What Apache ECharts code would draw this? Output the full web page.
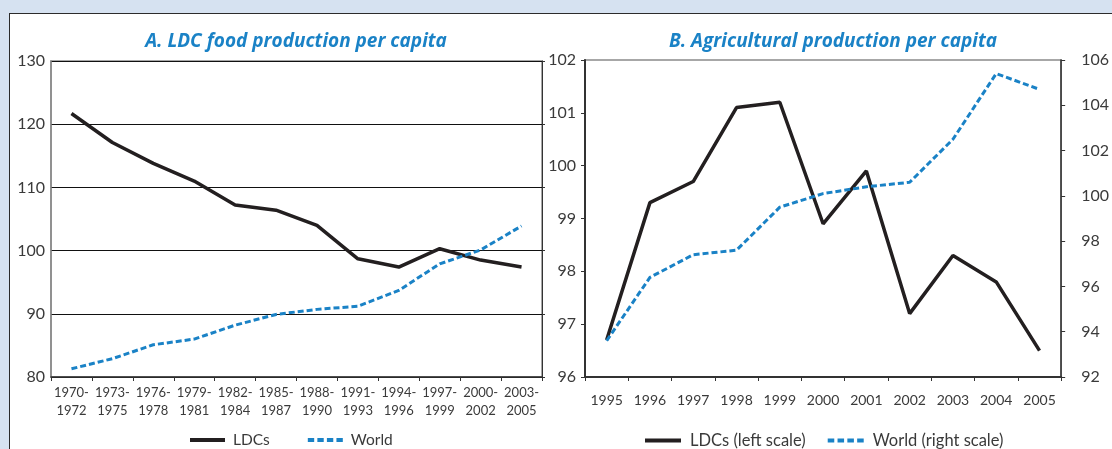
<!DOCTYPE html>
<html>
<head>
<meta charset="utf-8">
<script src="https://cdn.jsdelivr.net/npm/echarts@6/dist/echarts.min.js"></script>
<style>
html, body { margin: 0; padding: 0; background: #d6e2f1; overflow: hidden; }
#frame { position: absolute; left: 9px; top: 13px; width: 1130px; height: 470px; background: #fff; border: 1.5px solid #2b2b2b; box-sizing: border-box; }
#chart { position: absolute; left: 0; top: 0; width: 1112px; height: 449px; }
</style>
</head>
<body>
<div id="frame"></div>
<div id="chart"></div>
<script>
// panel A: food production per capita, 3-year averages
var periods = ['1970-\n1972', '1973-\n1975', '1976-\n1978', '1979-\n1981', '1982-\n1984', '1985-\n1987',
    '1988-\n1990', '1991-\n1993', '1994-\n1996', '1997-\n1999', '2000-\n2002', '2003-\n2005']
var ldcFood = [121.7, 117.1, 113.8, 111.0, 107.2, 106.4, 104.0, 98.7, 97.4, 100.3, 98.5, 97.4]
var worldFood = [81.3, 82.9, 85.1, 86.0, 88.2, 89.9, 90.7, 91.2, 93.7, 97.9, 100.1, 103.9]

// panel B: agricultural production per capita
var years = ['1995', '1996', '1997', '1998', '1999', '2000', '2001', '2002', '2003', '2004', '2005']
var ldcAgri = [96.7, 99.3, 99.7, 101.1, 101.2, 98.9, 99.9, 97.2, 98.3, 97.8, 96.5]
var worldAgri = [93.6, 96.4, 97.4, 97.6, 99.5, 100.1, 100.4, 100.6, 102.5, 105.4, 104.7]

var font = 'Lato, "Open Sans", sans-serif'
var titleFont = '"Open Sans", Lato, sans-serif'
var textCol = '#3a3a3a'
var blue = '#1a82c6'
var black = '#231f20'

// legend icons drawn as flat bars (solid / dashed)
var solidIcon = 'path://M0,0h35v1h-35z'
var dashIcon = 'path://M0,0h6v1h-6z M9,0h6v1h-6z M18,0h6v1h-6z M27,0h6v1h-6z'

var dom = echarts.init(document.getElementById('chart'))

var options = {
    backgroundColor: 'transparent',
    animation: false,
    textStyle: { fontFamily: font },
    title: [
        {
            text: 'A. LDC food production per capita',
            left: 291, top: 27, textAlign: 'center',
            textStyle: { color: blue, fontSize: 19, fontStyle: 'italic', fontWeight: 'bold', fontFamily: titleFont }
        },
        {
            text: 'B. Agricultural production per capita',
            left: 828, top: 27, textAlign: 'center',
            textStyle: { color: blue, fontSize: 19, fontStyle: 'italic', fontWeight: 'bold', fontFamily: titleFont }
        }
    ],
    legend: [
        {
            data: [
                { name: 'LDCs', icon: solidIcon, itemStyle: { color: black } },
                { name: 'World', icon: dashIcon, itemStyle: { color: blue } }
            ],
            left: 185, top: 427,
            itemWidth: 35, itemHeight: 4, itemGap: 38, symbolKeepAspect: false,
            textStyle: { color: textCol, fontSize: 15.5, fontFamily: font, padding: [0, 0, 0, 3] }
        },
        {
            data: [
                { name: 'LDCs (left scale)', icon: solidIcon, itemStyle: { color: black } },
                { name: 'World (right scale)', icon: dashIcon, itemStyle: { color: blue } }
            ],
            left: 640, top: 427,
            itemWidth: 36, itemHeight: 4, itemGap: 22, symbolKeepAspect: false,
            textStyle: { color: textCol, fontSize: 16.5, fontFamily: font, padding: [0, 0, 0, 4] }
        }
    ],
    grid: [
        { left: 51, top: 61, width: 491, height: 316, show: true, borderColor: '#8a8a8a', borderWidth: 1.5, backgroundColor: 'transparent' },
        { left: 585, top: 60, width: 490, height: 317, show: true, borderColor: '#8a8a8a', borderWidth: 1.5, backgroundColor: 'transparent' }
    ],
    xAxis: [
        {
            type: 'category', gridIndex: 0, data: periods, boundaryGap: true,
            axisLine: { lineStyle: { color: '#333', width: 1.5 } },
            axisTick: { show: true, length: 4, lineStyle: { color: '#333' } },
            axisLabel: { color: textCol, fontSize: 13, lineHeight: 18, margin: 7, interval: 0 }
        },
        {
            type: 'category', gridIndex: 1, data: years, boundaryGap: true,
            axisLine: { lineStyle: { color: '#333', width: 2 } },
            axisTick: { show: true, length: 4, lineStyle: { color: '#333' } },
            axisLabel: { color: textCol, fontSize: 14, margin: 16, interval: 0 }
        }
    ],
    yAxis: [
        {
            type: 'value', gridIndex: 0, min: 80, max: 130, interval: 10,
            axisLine: { show: true, lineStyle: { color: '#8a8a8a', width: 1.5 } },
            axisTick: { show: false },
            axisLabel: { color: textCol, fontSize: 16, margin: 6 },
            splitLine: { show: true, lineStyle: { color: '#111', width: 1 } }
        },
        {
            type: 'value', gridIndex: 0, position: 'right', min: 80, max: 130, interval: 10,
            axisLine: { show: true, lineStyle: { color: '#333', width: 1 } },
            axisTick: { show: true, length: 3, lineStyle: { color: '#333' } },
            axisLabel: { show: false },
            splitLine: { show: false }
        },
        {
            type: 'value', gridIndex: 1, min: 96, max: 102, interval: 1,
            axisLine: { show: true, lineStyle: { color: '#333', width: 2 } },
            axisTick: { show: true, length: 4, lineStyle: { color: '#333' } },
            axisLabel: { color: textCol, fontSize: 16, margin: 9 },
            splitLine: { show: false }
        },
        {
            type: 'value', gridIndex: 1, position: 'right', min: 92, max: 106, interval: 2,
            axisLine: { show: true, lineStyle: { color: '#333', width: 1.5 } },
            axisTick: { show: true, length: 4, lineStyle: { color: '#333' } },
            axisLabel: { color: textCol, fontSize: 16, margin: 20 },
            splitLine: { show: false }
        }
    ],
    series: [
        {
            name: 'LDCs', type: 'line', xAxisIndex: 0, yAxisIndex: 0, data: ldcFood,
            symbol: 'none', itemStyle: { color: black },
            lineStyle: { color: black, width: 3.5 }
        },
        {
            name: 'World', type: 'line', xAxisIndex: 0, yAxisIndex: 0, data: worldFood,
            symbol: 'none', itemStyle: { color: blue },
            lineStyle: { color: blue, width: 3, type: [6, 3] }
        },
        {
            name: 'LDCs (left scale)', type: 'line', xAxisIndex: 1, yAxisIndex: 2, data: ldcAgri,
            symbol: 'none', itemStyle: { color: black },
            lineStyle: { color: black, width: 3.5 }
        },
        {
            name: 'World (right scale)', type: 'line', xAxisIndex: 1, yAxisIndex: 3, data: worldAgri,
            symbol: 'none', itemStyle: { color: blue },
            lineStyle: { color: blue, width: 3, type: [6, 3] }
        }
    ]
}

dom.setOption(options)
</script>
</body>
</html>
